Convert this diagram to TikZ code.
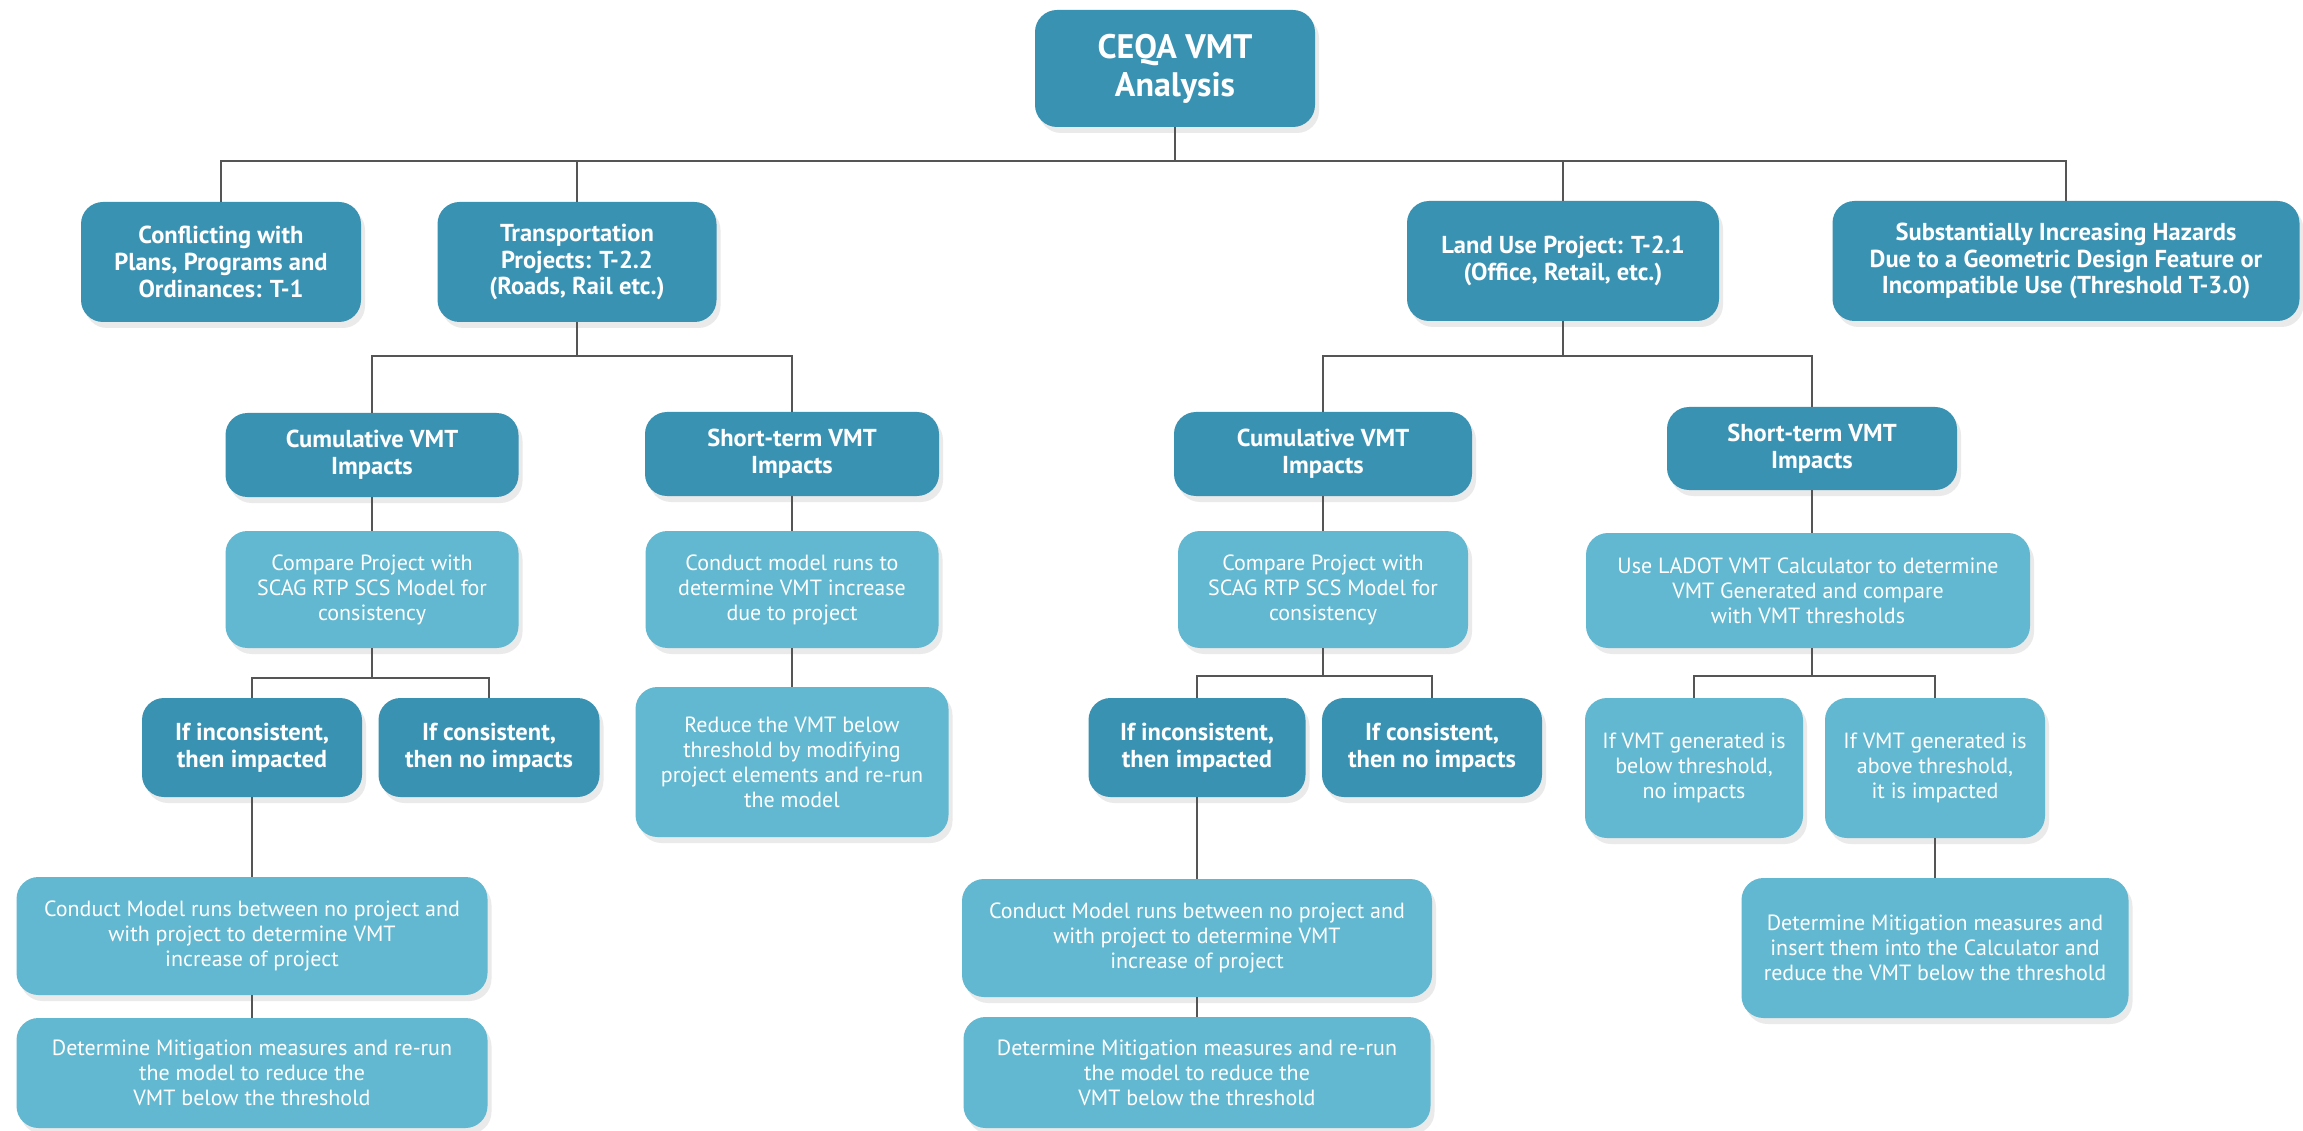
\documentclass[tikz,border=0pt]{standalone}
\usepackage{fontspec}
\setmainfont{PT Sans}
\usetikzlibrary{shadows}
\definecolor{darkbox}{RGB}{58,146,179}
\definecolor{lightbox}{RGB}{98,184,208}
\definecolor{linegray}{RGB}{85,85,85}
\begin{document}
\begin{tikzpicture}[x=1pt,y=-1pt,
  base/.style={rounded corners=22pt, align=center, text=white, inner sep=0pt,
    drop shadow={shadow xshift=4pt, shadow yshift=-6pt, opacity=0.16}},
  dark/.style={base, fill=darkbox, font=\bfseries\fontsize{24.5}{26.7}\selectfont},
  light/.style={base, fill=lightbox, font=\fontsize{22}{25}\selectfont},
  sz/.style 2 args={minimum width=#1pt, minimum height=#2pt},
  conn/.style={draw=linegray, line width=2pt}]
\useasboundingbox[fill=white] (0,0) rectangle (2303,1131);

% level 0
\node[dark, sz={280}{117}, font=\bfseries\fontsize{34}{38}\selectfont] (root) at (1175,68.5) {CEQA VMT\\Analysis};

% level 1
\node[dark, sz={280}{120}] (conf) at (221,262) {Conflicting with\\Plans, Programs and\\Ordinances: T-1};
\node[dark, sz={279}{120}] (trans) at (577,262) {Transportation\\Projects: T-2.2\\(Roads, Rail etc.)};
\node[dark, sz={312}{120}] (land) at (1563,261) {Land Use Project: T-2.1\\(Office, Retail, etc.)};
\node[dark, sz={467}{120}] (subst) at (2066,261) {Substantially Increasing Hazards\\Due to a Geometric Design Feature or\\Incompatible Use (Threshold T-3.0)};

% level 2
\node[dark, sz={293}{84}] (cumL) at (372,455) {Cumulative VMT\\Impacts};
\node[dark, sz={294}{84}] (shortL) at (792,454) {Short-term VMT\\Impacts};
\node[dark, sz={298}{84}] (cumR) at (1323,454) {Cumulative VMT\\Impacts};
\node[dark, sz={290}{83}] (shortR) at (1812,448.5) {Short-term VMT\\Impacts};

% level 3
\node[light, sz={293}{117}] (compL) at (372,589.5) {Compare Project with\\SCAG RTP SCS Model for\\consistency};
\node[light, sz={293}{117}] (condL) at (792,589.5) {Conduct model runs to\\determine VMT increase\\due to project};
\node[light, sz={290}{117}] (compR) at (1323,589.5) {Compare Project with\\SCAG RTP SCS Model for\\consistency};
\node[light, sz={444}{115}] (ladot) at (1808,590.5) {Use LADOT VMT Calculator to determine\\VMT Generated and compare\\with VMT thresholds};

% level 4
\node[dark, sz={220}{99}] (incL) at (252,747.5) {If inconsistent,\\then impacted};
\node[dark, sz={221}{99}] (conL) at (489,747.5) {If consistent,\\then no impacts};
\node[light, sz={313}{150}] (reduce) at (792,762) {Reduce the VMT below\\threshold by modifying\\project elements and re-run\\the model};
\node[dark, sz={217}{99}] (incR) at (1197,747.5) {If inconsistent,\\then impacted};
\node[dark, sz={220}{99}] (conR) at (1432,747.5) {If consistent,\\then no impacts};
\node[light, sz={218}{140}] (below) at (1694,768) {If VMT generated is\\below threshold,\\no impacts};
\node[light, sz={220}{140}] (above) at (1935,768) {If VMT generated is\\above threshold,\\it is impacted};

% level 5
\node[light, sz={471}{118}] (modelL) at (252,936) {Conduct Model runs between no project and\\with project to determine VMT\\increase of project};
\node[light, sz={471}{110}] (detL) at (252,1073) {Determine Mitigation measures and re-run\\the model to reduce the\\VMT below the threshold};
\node[light, sz={470}{118}] (modelR) at (1197,938) {Conduct Model runs between no project and\\with project to determine VMT\\increase of project};
\node[light, sz={467}{111}] (detR) at (1197,1072.5) {Determine Mitigation measures and re-run\\the model to reduce the\\VMT below the threshold};
\node[light, sz={387}{140}] (mitig) at (1935,948) {Determine Mitigation measures and\\insert them into the Calculator and\\reduce the VMT below the threshold};

% connectors
\coordinate (lb) at (ladot.south -| shortR.south);
\foreach \c in {conf,trans,land,subst}
  \draw[conn] (root.south) -- ++(0,34) -| (\c.north);
\foreach \c in {cumL,shortL}
  \draw[conn] (trans.south) -- ++(0,34) -| (\c.north);
\foreach \c in {cumR,shortR}
  \draw[conn] (land.south) -- ++(0,35) -| (\c.north);
\foreach \c in {incL,conL}
  \draw[conn] (compL.south) -- ++(0,30) -| (\c.north);
\foreach \c in {incR,conR}
  \draw[conn] (compR.south) -- ++(0,28) -| (\c.north);
\foreach \c in {below,above}
  \draw[conn] (lb) -- ++(0,28) -| (\c.north);
\draw[conn] (shortR.south) -- (shortR.south |- ladot.north);
\draw[conn] (cumL) -- (compL);
\draw[conn] (cumR) -- (compR);
\draw[conn] (shortL) -- (condL);
\draw[conn] (condL) -- (reduce);
\draw[conn] (incL) -- (modelL);
\draw[conn] (modelL) -- (detL);
\draw[conn] (incR) -- (modelR);
\draw[conn] (modelR) -- (detR);
\draw[conn] (above) -- (mitig);
\end{tikzpicture}
\end{document}
